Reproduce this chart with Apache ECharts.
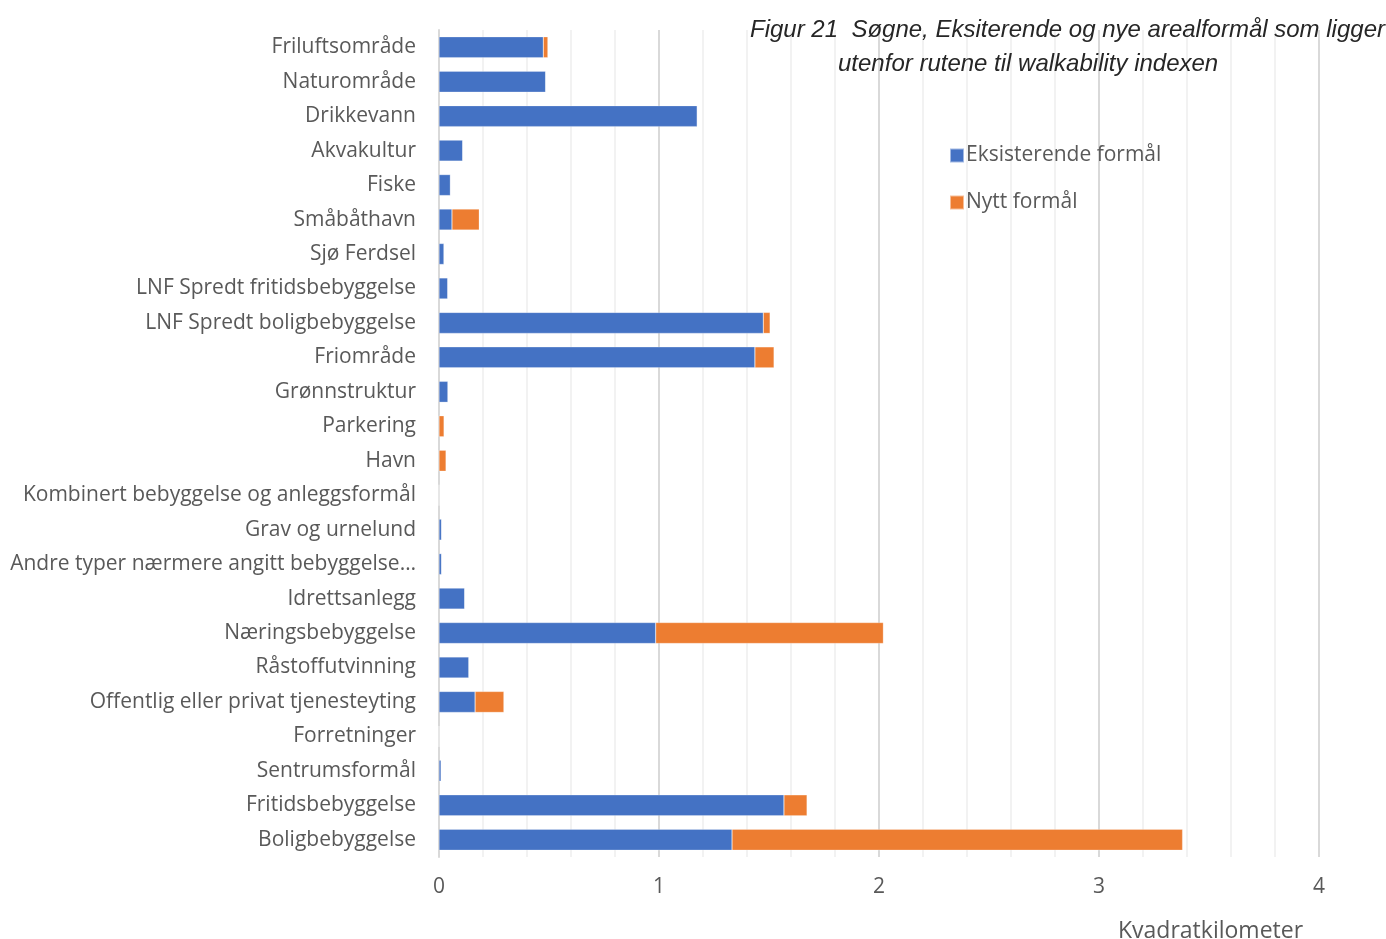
<!DOCTYPE html>
<html>
<head>
<meta charset="utf-8">
<script src="https://cdn.jsdelivr.net/npm/echarts@6/dist/echarts.min.js"></script>
<style>
  html, body { margin: 0; padding: 0; background: #fff; }
  #chart { width: 1386px; height: 939px; }
</style>
</head>
<body>
<div id="chart"></div>
<script>
// Arealformål, listed from top to bottom
const categories = [
  'Friluftsområde', 'Naturområde', 'Drikkevann', 'Akvakultur', 'Fiske',
  'Småbåthavn', 'Sjø Ferdsel', 'LNF Spredt fritidsbebyggelse',
  'LNF Spredt boligbebyggelse', 'Friområde', 'Grønnstruktur', 'Parkering',
  'Havn', 'Kombinert bebyggelse og anleggsformål', 'Grav og urnelund',
  'Andre typer nærmere angitt bebyggelse…', 'Idrettsanlegg',
  'Næringsbebyggelse', 'Råstoffutvinning', 'Offentlig eller privat tjenesteyting',
  'Forretninger', 'Sentrumsformål', 'Fritidsbebyggelse', 'Boligbebyggelse'
];

// Areal i km²
const eksisterende = [
  0.474, 0.485, 1.174, 0.108, 0.052,
  0.059, 0.023, 0.040,
  1.474, 1.436, 0.041, 0,
  0, 0, 0.012,
  0.012, 0.117,
  0.985, 0.136, 0.164,
  0, 0.010, 1.568, 1.332
];
const nytt = [
  0.021, 0, 0, 0, 0,
  0.124, 0, 0,
  0.031, 0.087, 0, 0.023,
  0.032, 0, 0,
  0, 0,
  1.035, 0, 0.131,
  0, 0, 0.105, 2.048
];

const seriesNames = ['Eksisterende formål', 'Nytt formål'];
const xTicks = [0, 1, 2, 3, 4];

const textColor = '#595959';
const labelFont = '"Open Sans", Lato, sans-serif';
const titleFont = '"Liberation Sans", Arial, sans-serif';

const chart = echarts.init(document.getElementById('chart'));
chart.setOption({
  animation: false,
  backgroundColor: '#ffffff',
  color: ['#4472C4', '#ED7D31'],
  title: [
    {
      text: 'Figur 21  Søgne, Eksiterende og nye arealformål som ligger',
      left: 745, top: 13,
      textStyle: { fontFamily: titleFont, fontStyle: 'italic', fontWeight: 'normal', fontSize: 24, color: '#262626' }
    },
    {
      text: 'utenfor rutene til walkability indexen',
      left: 833, top: 47,
      textStyle: { fontFamily: titleFont, fontStyle: 'italic', fontWeight: 'normal', fontSize: 24, color: '#262626' }
    },
    {
      text: 'Kvadratkilometer',
      left: 1113, top: 915,
      textStyle: { fontFamily: labelFont, fontWeight: 'normal', fontSize: 23, color: textColor }
    }
  ],
  legend: {
    orient: 'vertical',
    left: 944, top: 140,
    itemWidth: 14, itemHeight: 14,
    itemGap: 26,
    icon: 'rect',
    data: seriesNames,
    textStyle: { fontFamily: labelFont, fontSize: 21, color: textColor, padding: [0, 0, 0, -3] }
  },
  grid: { left: 439, right: 67, top: 30, bottom: 82, containLabel: false },
  xAxis: {
    type: 'value',
    min: xTicks[0], max: xTicks[xTicks.length - 1], interval: 1,
    axisLine: { show: false },
    axisTick: { show: false },
    axisLabel: { fontFamily: labelFont, fontSize: 21, color: textColor, margin: 20 },
    splitLine: { show: true, lineStyle: { color: '#d9d9d9', width: 2 } },
    minorTick: { show: false, splitNumber: 5 },
    minorSplitLine: { show: true, lineStyle: { color: '#eeeeee', width: 1.5 } }
  },
  yAxis: {
    type: 'category',
    data: categories,
    inverse: true,
    axisLine: { show: true, lineStyle: { color: '#d9d9d9', width: 2 } },
    axisTick: { show: false },
    axisLabel: { fontFamily: labelFont, fontSize: 21, color: textColor, margin: 23, padding: [4, 0, 0, 0] },
    splitLine: { show: false }
  },
  series: [
    {
      name: seriesNames[0], type: 'bar', stack: 'areal',
      data: eksisterende, barWidth: 21,
      itemStyle: { borderColor: 'rgba(255,255,255,0.5)', borderWidth: 0.5 }
    },
    {
      name: seriesNames[1], type: 'bar', stack: 'areal',
      data: nytt, barWidth: 21,
      itemStyle: { borderColor: 'rgba(255,255,255,0.5)', borderWidth: 0.5 }
    }
  ]
});
</script>
</body>
</html>
